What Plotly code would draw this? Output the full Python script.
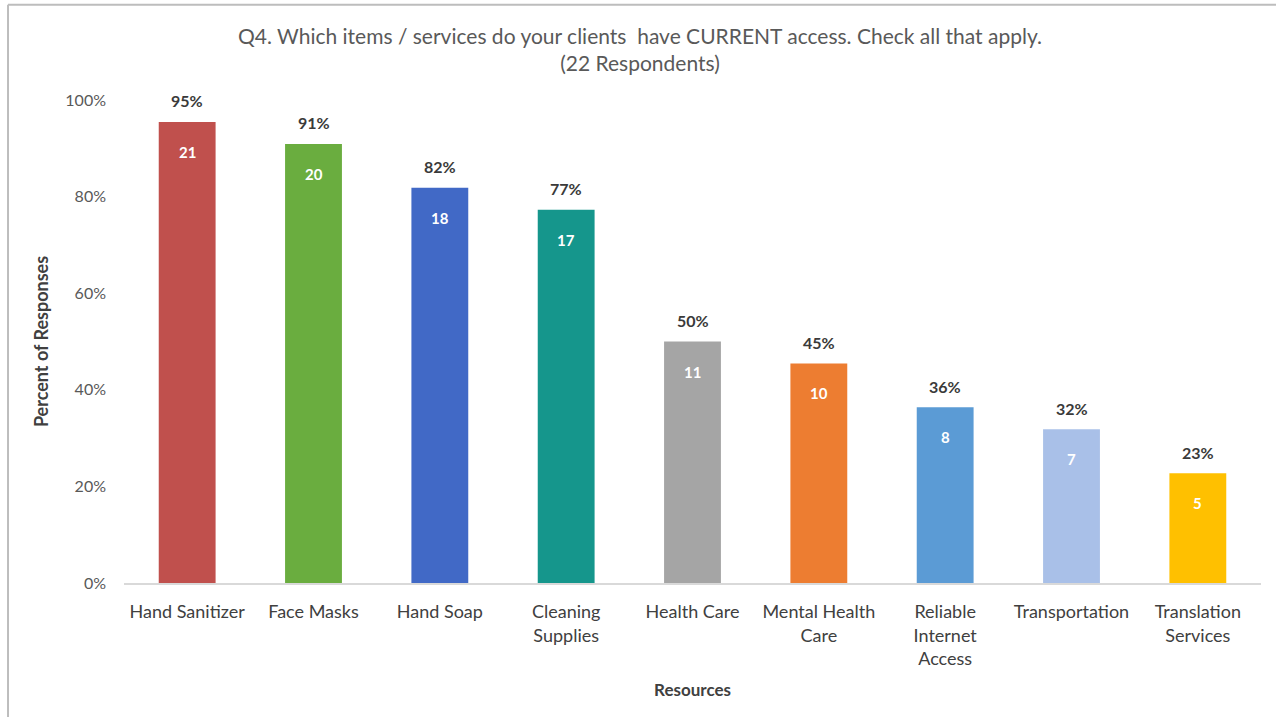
import plotly.graph_objects as go

# Survey data: Q4, 22 respondents
resources = ["Hand Sanitizer", "Face Masks", "Hand Soap", "Cleaning<br>Supplies",
             "Health Care", "Mental Health<br>Care", "Reliable<br>Internet<br>Access",
             "Transportation", "Translation<br>Services"]
counts = [21, 20, 18, 17, 11, 10, 8, 7, 5]
respondents = 22
pct_labels = ["95%", "91%", "82%", "77%", "50%", "45%", "36%", "32%", "23%"]
colors = ["#C0504D", "#6AAD3F", "#4169C6", "#15968C", "#A5A5A5",
          "#ED7D31", "#5B9BD5", "#A9C0E8", "#FFC000"]
y_ticks = [0, 0.2, 0.4, 0.6, 0.8, 1.0]
y_tick_text = ["0%", "20%", "40%", "60%", "80%", "100%"]
title_text = ("Q4. Which items / services do your clients  have CURRENT access. "
              "Check all that apply.<br>(22 Respondents)")

shares = [c / respondents for c in counts]

FONT = "Lato, 'Open Sans', sans-serif"

fig = go.Figure(go.Bar(
    x=resources, y=shares, marker=dict(color=colors, line=dict(width=0)),
    width=0.45, hoverinfo="skip", showlegend=False,
))

for name, v, c, p in zip(resources, shares, counts, pct_labels):
    fig.add_annotation(x=name, y=v, text=f"<b>{p}</b>", showarrow=False,
                       yshift=21, font=dict(family=FONT, size=16, color="#3A3A3A"))
    fig.add_annotation(x=name, y=v, text=f"<b>{c}</b>", showarrow=False,
                       yshift=-30, font=dict(family=FONT, size=15, color="#FFFFFF"))

# Two-line chart title
fig.add_annotation(xref="paper", yref="paper", x=0.454, y=1.1065, xanchor="center",
                   yanchor="middle", showarrow=False, text=title_text,
                   font=dict(family=FONT, size=21, color="#595959"))

# Chart frame: top and left edges only
frame_line = dict(color="#BDBDBD", width=2)
fig.add_shape(type="line", xref="paper", yref="paper", x0=-0.102, x1=1.02,
              y0=1.197, y1=1.197, line=frame_line)
fig.add_shape(type="line", xref="paper", yref="paper", x0=-0.102, x1=-0.102,
              y0=1.197, y1=-0.3, line=frame_line)

fig.update_layout(
    width=1276, height=717,
    margin=dict(l=124, r=15, t=100, b=134),
    paper_bgcolor="white", plot_bgcolor="white",
    font=dict(family=FONT, color="#595959"),
    bargap=0.55,
)

fig.update_yaxes(range=[0, 1.0], tickvals=y_ticks, ticktext=y_tick_text,
                 showgrid=False, zeroline=False, showline=False,
                 ticklabelstandoff=17, tickfont=dict(family=FONT, size=16, color="#595959"),
                 title=dict(text="<b>Percent of Responses</b>", standoff=12,
                            font=dict(family=FONT, size=18, color="#404040")))
fig.update_xaxes(showgrid=False, showline=True, linecolor="#D9D9D9", linewidth=1.5,
                 ticks="", ticklabelstandoff=12,
                 tickfont=dict(family=FONT, size=18, color="#404040"),
                 title=dict(text="<b>Resources</b>", standoff=16,
                            font=dict(family=FONT, size=17, color="#404040")))

fig.write_html("out.html")
